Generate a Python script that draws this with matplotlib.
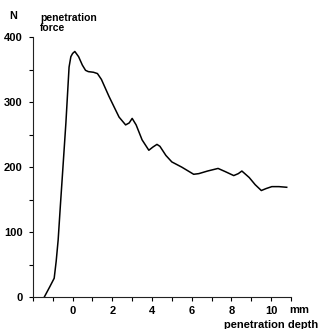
import matplotlib
matplotlib.use("Agg")
import matplotlib.pyplot as plt
from matplotlib.ticker import MultipleLocator, FixedLocator

depth = [-1.43, -1.15, -0.93, -0.83, -0.73, -0.62, -0.51, -0.34, -0.18, -0.09, 0.0, 0.11, 0.3, 0.49, 0.65, 0.79, 1.05, 1.25, 1.45, 1.83, 2.1, 2.34, 2.67, 2.85, 3.0, 3.2, 3.5, 3.84, 4.05, 4.25, 4.4, 4.7, 5.0, 5.5, 6.1, 6.36, 6.8, 7.33, 7.7, 8.12, 8.35, 8.53, 8.9, 9.2, 9.51, 9.75, 10.04, 10.4, 10.79]
force = [0, 16, 29, 55, 88, 140, 190, 268, 354, 370, 375, 378, 370, 357, 349, 347, 346, 344, 335, 309, 292, 277, 265, 268, 275, 265, 242, 226, 231, 235, 232, 218, 208, 200, 189, 190, 194, 198, 193, 187, 190, 194, 184, 173, 164, 167, 170, 170, 169]

xticks_major = [0, 2, 4, 6, 8, 10]
yticks_major = [0, 100, 200, 300, 400]

plt.rcParams['font.family'] = ['Liberation Sans', 'DejaVu Sans']

fig = plt.figure(figsize=(3.2, 3.29), dpi=100)
ax = fig.add_axes([0.103, 0.097, 0.806, 0.79])
ax.plot(depth, force, color='black', lw=1.1)
ax.set_xlim(-2, 11)
ax.set_ylim(0, 400)
for s in ['top', 'right']:
    ax.spines[s].set_visible(False)
for s in ['left', 'bottom']:
    ax.spines[s].set_linewidth(0.8)
    ax.spines[s].set_color('#222222')
ax.xaxis.set_major_locator(FixedLocator(xticks_major))
ax.xaxis.set_minor_locator(MultipleLocator(1))
ax.yaxis.set_major_locator(FixedLocator(yticks_major))
ax.yaxis.set_minor_locator(MultipleLocator(50))
ax.tick_params(axis='both', which='both', direction='out', length=3, width=0.8, labelsize=8)
ax.tick_params(axis='x', pad=3.5)
ax.tick_params(axis='y', pad=4.5)
for lab in ax.get_xticklabels() + ax.get_yticklabels():
    lab.set_fontweight('bold')

fig.text(0.03, 0.952, 'N', fontsize=7.8, fontweight='bold', ha='left', va='center')
fig.text(0.125, 0.93, 'penetration\nforce', fontsize=7.5, fontweight='bold', ha='left', va='center', linespacing=1.0)
fig.text(0.905, 0.058, 'mm', fontsize=8, fontweight='bold', ha='left', va='center')
fig.text(0.995, 0.012, 'penetration depth', fontsize=8, fontweight='bold', ha='right', va='center')

fig.savefig('out.png', dpi=100)
